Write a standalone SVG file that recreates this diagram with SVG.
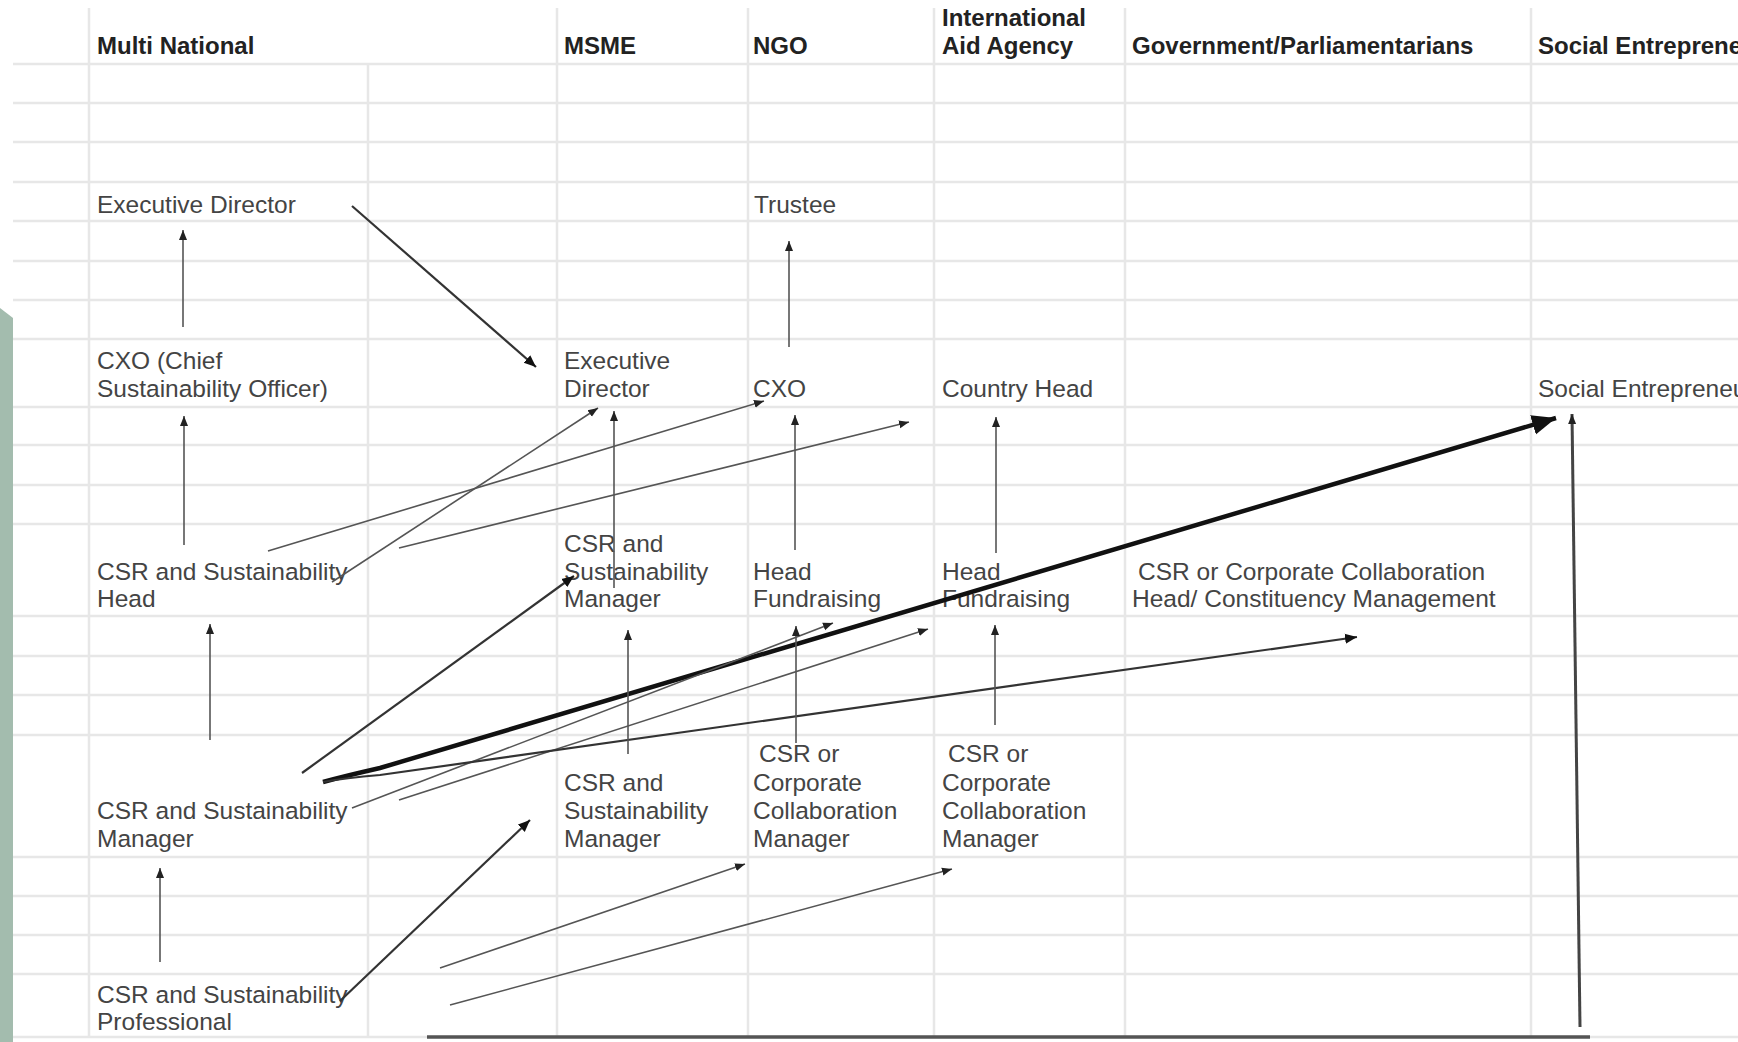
<svg xmlns="http://www.w3.org/2000/svg" width="1738" height="1042" viewBox="0 0 1738 1042">
<style>
.grid line{stroke:#e7e7e7;stroke-width:2.5}
.hdr{font-family:"Liberation Sans",Arial,sans-serif;font-size:24px;font-weight:bold;fill:#222}
.lbl{font-family:"Liberation Sans",Arial,sans-serif;font-size:24.5px;fill:#444}
.thin{stroke:#555;stroke-width:1.6;fill:none;marker-end:url(#ah)}
.mid{stroke:#333;stroke-width:2.2;fill:none;marker-end:url(#ah2)}
.thick{stroke:#111;stroke-width:4.5;fill:none;marker-end:url(#ahb)}
</style>
<defs>
<marker id="ah" markerUnits="userSpaceOnUse" markerWidth="12" markerHeight="10" refX="10" refY="5" orient="auto"><path d="M0,1 L10,5 L0,9 Z" fill="#222"/></marker>
<marker id="ah2" markerUnits="userSpaceOnUse" markerWidth="14" markerHeight="12" refX="12" refY="6" orient="auto"><path d="M0,1 L12,6 L0,11 Z" fill="#111"/></marker>
<marker id="ahb" markerUnits="userSpaceOnUse" markerWidth="26" markerHeight="22" refX="24" refY="11" orient="auto"><path d="M0,1 L24,11 L0,21 Z" fill="#111"/></marker>
</defs>
<rect width="1738" height="1042" fill="#fff"/>
<polygon points="0,308 13,318 13,1042 0,1042" fill="#a3bcae"/>
<g class="grid">
<line x1="13" y1="64" x2="1738" y2="64"/><line x1="13" y1="103" x2="1738" y2="103"/><line x1="13" y1="142" x2="1738" y2="142"/><line x1="13" y1="182" x2="1738" y2="182"/><line x1="13" y1="221" x2="1738" y2="221"/><line x1="13" y1="261" x2="1738" y2="261"/><line x1="13" y1="300" x2="1738" y2="300"/><line x1="13" y1="339" x2="1738" y2="339"/><line x1="13" y1="407" x2="1738" y2="407"/><line x1="13" y1="445" x2="1738" y2="445"/><line x1="13" y1="485" x2="1738" y2="485"/><line x1="13" y1="524" x2="1738" y2="524"/><line x1="13" y1="616" x2="1738" y2="616"/><line x1="13" y1="656" x2="1738" y2="656"/><line x1="13" y1="695" x2="1738" y2="695"/><line x1="13" y1="735" x2="1738" y2="735"/><line x1="13" y1="857" x2="1738" y2="857"/><line x1="13" y1="896" x2="1738" y2="896"/><line x1="13" y1="935" x2="1738" y2="935"/><line x1="13" y1="974" x2="1738" y2="974"/><line x1="13" y1="1037" x2="1738" y2="1037"/>
<line x1="89" y1="8" x2="89" y2="1037"/><line x1="368" y1="64" x2="368" y2="1037"/><line x1="557" y1="8" x2="557" y2="1037"/><line x1="748" y1="8" x2="748" y2="1037"/><line x1="934" y1="8" x2="934" y2="1037"/><line x1="1125" y1="8" x2="1125" y2="1037"/><line x1="1531" y1="8" x2="1531" y2="1037"/>
</g>
<g id="headers">
<text class="hdr" x="97" y="54">Multi National</text>
<text class="hdr" x="564" y="54">MSME</text>
<text class="hdr" x="753" y="54">NGO</text>
<text class="hdr" x="942" y="26">International</text>
<text class="hdr" x="942" y="54">Aid Agency</text>
<text class="hdr" x="1132" y="54">Government/Parliamentarians</text>
<text class="hdr" x="1538" y="54">Social Entrepreneur</text>
</g>
<g id="mn-exec"><text class="lbl" x="97" y="213">Executive Director</text></g>
<g id="ngo-trustee"><text class="lbl" x="754" y="213">Trustee</text></g>
<g id="mn-cxo"><text class="lbl" x="97" y="369">CXO (Chief</text><text class="lbl" x="97" y="397">Sustainability Officer)</text></g>
<g id="msme-exec"><text class="lbl" x="564" y="369">Executive</text><text class="lbl" x="564" y="397">Director</text></g>
<g id="ngo-cxo"><text class="lbl" x="753" y="397">CXO</text></g>
<g id="iaa-country"><text class="lbl" x="942" y="397">Country Head</text></g>
<g id="se"><text class="lbl" x="1538" y="397">Social Entrepreneur</text></g>
<g id="mn-csrhead"><text class="lbl" x="97" y="580">CSR and Sustainability</text><text class="lbl" x="97" y="607">Head</text></g>
<g id="msme-csrmgr1"><text class="lbl" x="564" y="552">CSR and</text><text class="lbl" x="564" y="580">Sustainability</text><text class="lbl" x="564" y="607">Manager</text></g>
<g id="ngo-headfund"><text class="lbl" x="753" y="580">Head</text><text class="lbl" x="753" y="607">Fundraising</text></g>
<g id="iaa-headfund"><text class="lbl" x="942" y="580">Head</text><text class="lbl" x="942" y="607">Fundraising</text></g>
<g id="gov-head"><text class="lbl" x="1138" y="580">CSR or Corporate Collaboration</text><text class="lbl" x="1132" y="607">Head/ Constituency Management</text></g>
<g id="mn-csrmgr"><text class="lbl" x="97" y="819">CSR and Sustainability</text><text class="lbl" x="97" y="847">Manager</text></g>
<g id="msme-csrmgr2"><text class="lbl" x="564" y="791">CSR and</text><text class="lbl" x="564" y="819">Sustainability</text><text class="lbl" x="564" y="847">Manager</text></g>
<g id="ngo-collab"><text class="lbl" x="759" y="762">CSR or</text><text class="lbl" x="753" y="791">Corporate</text><text class="lbl" x="753" y="819">Collaboration</text><text class="lbl" x="753" y="847">Manager</text></g>
<g id="iaa-collab"><text class="lbl" x="948" y="762">CSR or</text><text class="lbl" x="942" y="791">Corporate</text><text class="lbl" x="942" y="819">Collaboration</text><text class="lbl" x="942" y="847">Manager</text></g>
<g id="mn-prof"><text class="lbl" x="97" y="1003">CSR and Sustainability</text><text class="lbl" x="97" y="1030">Professional</text></g>
<g id="connectors">
<line class="thin" x1="183" y1="327" x2="183" y2="230"/>
<line class="mid" x1="352" y1="206" x2="536" y2="367"/>
<line class="thin" x1="789" y1="347" x2="789" y2="241"/>
<line class="thin" x1="184" y1="545" x2="184" y2="416"/>
<line class="thin" x1="268" y1="551" x2="764" y2="401"/>
<line class="thin" x1="332" y1="582" x2="598" y2="408"/>
<line class="thin" x1="399" y1="548" x2="909" y2="422"/>
<line class="thin" x1="614" y1="588" x2="614" y2="411"/>
<line class="thin" x1="795" y1="550" x2="795" y2="415"/>
<line class="thin" x1="996" y1="553" x2="996" y2="417"/>
<line class="thin" x1="210" y1="740" x2="210" y2="624"/>
<line class="thin" x1="160" y1="962" x2="160" y2="868"/>
<line class="mid" x1="340" y1="1001" x2="530" y2="820"/>
<line class="thin" x1="440" y1="968" x2="745" y2="864"/>
<line class="thin" x1="450" y1="1005" x2="952" y2="869"/>
<line class="mid" x1="302" y1="773" x2="574" y2="576"/>
<path class="thick" d="M323,782 Q345,776 380,768 L1556,418"/>
<path class="thin" d="M352,808 L833,623"/>
<path class="thin" d="M399,800 L928,629"/>
<path class="mid" d="M323,782 Q345,778 380,775 L1357,637"/>
<line class="thin" x1="628" y1="754" x2="628" y2="630"/>
<line class="thin" x1="796" y1="743" x2="796" y2="626"/>
<line class="thin" x1="995" y1="725" x2="995" y2="625"/>
<line x1="1580" y1="1027" x2="1572" y2="414" stroke="#444" stroke-width="3" marker-end="url(#ah)"/>
<line x1="427" y1="1037" x2="1590" y2="1037" stroke="#555" stroke-width="3.5"/>
</g>
</svg>
